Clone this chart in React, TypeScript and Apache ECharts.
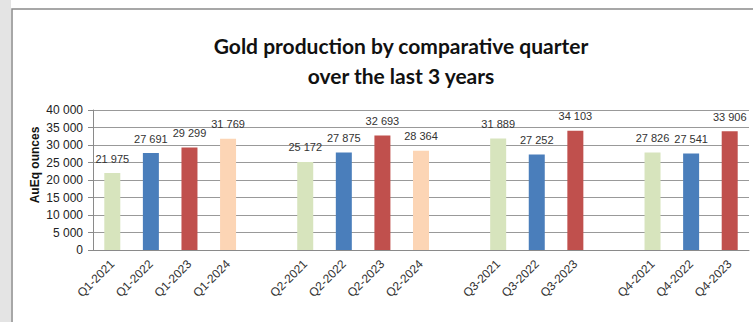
import React, { useEffect, useRef } from "react";
import * as echarts from "echarts";

const categories = [
  "Q1-2021", "Q1-2022", "Q1-2023", "Q1-2024", " ",
  "Q2-2021", "Q2-2022", "Q2-2023", "Q2-2024", "  ",
  "Q3-2021", "Q3-2022", "Q3-2023", "   ",
  "Q4-2021", "Q4-2022", "Q4-2023",
];
const values: (number | null)[] = [
  21975, 27691, 29299, 31769, null,
  25172, 27875, 32693, 28364, null,
  31889, 27252, 34103, null,
  27826, 27541, 33906,
];
const yearColors: Record<string, string> = {
  "2021": "#d7e4bd",
  "2022": "#4a7ebb",
  "2023": "#c0504d",
  "2024": "#fcd5b5",
};
const yTicks = [0, 5000, 10000, 15000, 20000, 25000, 30000, 35000, 40000];

const fmt = (v: number) => String(Math.round(v)).replace(/\B(?=(\d{3})+(?!\d))/g, " ");

export default function App() {
  const ref = useRef<HTMLDivElement>(null);
  useEffect(() => {
    if (!ref.current) return;
    const chart = echarts.init(ref.current, undefined, { renderer: "svg" });
    const font = "Liberation Sans, Arial, sans-serif";
    chart.setOption({
      animation: false,
      backgroundColor: "#ffffff",
      title: {
        text: "Gold production by comparative quarter\nover the last 3 years",
        left: 401,
        top: 30,
        padding: 0,
        textAlign: "center",
        textStyle: {
          fontFamily: "Lato, sans-serif",
          fontSize: 21,
          fontWeight: "bold",
          color: "#111111",
          lineHeight: 30,
        },
      },
      graphic: [
        { type: "rect", shape: { x: 0, y: 0, width: 11, height: 322 }, style: { fill: "#e4e4e4" }, silent: true },
        { type: "rect", shape: { x: 12, y: 9, width: 800, height: 400 }, style: { fill: "none", stroke: "#8a8a8a", lineWidth: 1.5 }, silent: true },
        {
          type: "text",
          x: 35,
          y: 165,
          rotation: Math.PI / 2,
          style: {
            text: "AuEq ounces",
            fontFamily: font,
            fontSize: 12,
            fontWeight: "bold",
            fill: "#111111",
            textAlign: "center",
            textVerticalAlign: "middle",
          },
        },
      ],
      grid: { left: 93, right: 4, top: 110, bottom: 72, containLabel: false },
      xAxis: {
        type: "category",
        data: categories,
        axisLine: { lineStyle: { color: "#8a8a8a" } },
        axisTick: { show: false },
        axisLabel: {
          rotate: 45,
          interval: 0,
          margin: 12,
          fontFamily: font,
          fontSize: 12,
          color: "#333333",
        },
      },
      yAxis: {
        type: "value",
        min: yTicks[0],
        max: yTicks[yTicks.length - 1],
        interval: 5000,
        axisLine: { show: true, lineStyle: { color: "#8a8a8a" } },
        axisTick: { show: true, length: 5, lineStyle: { color: "#8a8a8a" } },
        splitLine: { lineStyle: { color: "#999999", width: 1.2 } },
        axisLabel: {
          margin: 10,
          fontFamily: font,
          fontSize: 12,
          color: "#222222",
          formatter: (v: number) => fmt(v),
        },
      },
      series: [
        {
          type: "bar",
          barWidth: 16,
          data: values.map((v, i) => ({
            value: v,
            itemStyle: { color: yearColors[categories[i].slice(3)] || "#cccccc" },
          })),
          label: {
            show: true,
            position: "top",
            distance: 9,
            fontFamily: font,
            fontSize: 11,
            color: "#333333",
            formatter: (p: any) => (p.value == null ? "" : fmt(p.value)),
          },
        },
      ],
    });
    return () => chart.dispose();
  }, []);
  return (
    <div
      ref={ref}
      style={{ position: "fixed", left: 0, top: 0, width: 753, height: 322 }}
    />
  );
}
